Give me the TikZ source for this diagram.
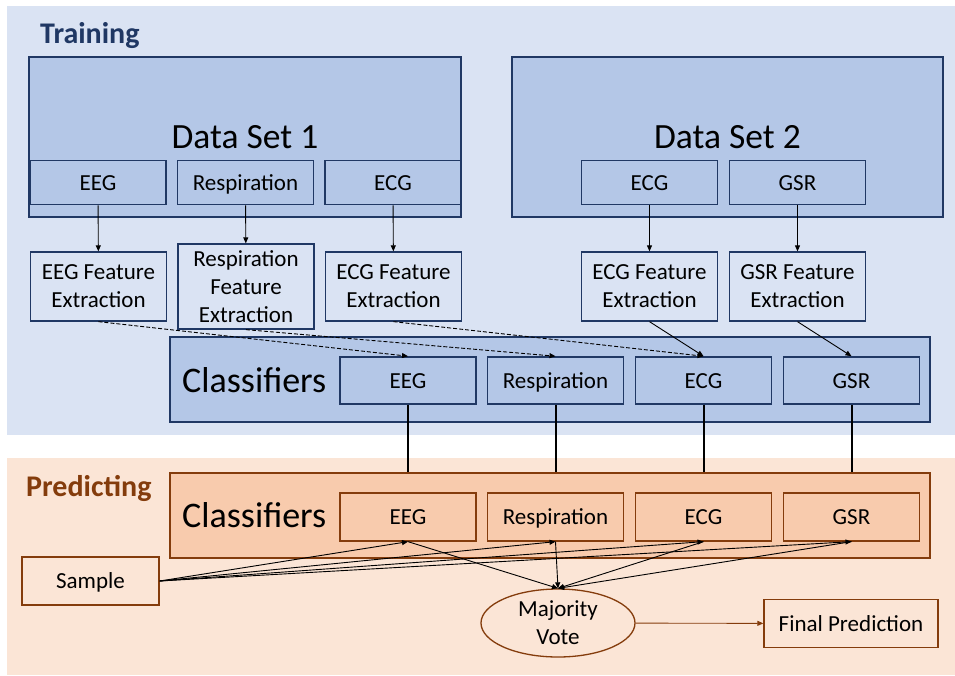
\documentclass[tikz,border=0pt]{standalone}
\usepackage{fontspec}
\setmainfont{Carlito}
\usepackage{xcolor}
\definecolor{TrainBack}{HTML}{DAE3F3}
\definecolor{TrainFill}{HTML}{B4C7E7}
\definecolor{TrainNavy}{HTML}{203864}
\definecolor{PredBack}{HTML}{FBE5D6}
\definecolor{PredFill}{HTML}{F8CBAD}
\definecolor{PredBrown}{HTML}{843C0C}
\usepackage{tikz}
\usetikzlibrary{arrows.meta,shapes.geometric}
\tikzset{
  dsbox/.style={draw=TrainNavy,fill=TrainFill,line width=1.6pt,inner sep=0pt,font=\fontsize{35.5}{40}\selectfont,minimum height=160pt},
  tsub/.style={draw=TrainNavy,fill=TrainFill,line width=1.6pt,inner sep=0pt,font=\fontsize{23}{28}\selectfont,text height=16pt,text depth=1pt,minimum width=136pt,minimum height=44pt},
  featbox/.style={draw=TrainNavy,fill=TrainBack,line width=1.3pt,inner sep=0pt,align=center,font=\fontsize{23}{28}\selectfont,minimum width=136pt,minimum height=69pt},
  clsbox/.style={line width=1.6pt,inner sep=0pt,minimum width=760pt,minimum height=85pt},
  psub/.style={draw=PredBrown,fill=PredFill,line width=1.3pt,inner sep=0pt,font=\fontsize{23}{28}\selectfont,text height=16pt,text depth=1pt,minimum width=136pt,minimum height=48pt},
  pbox/.style={draw=PredBrown,fill=PredBack,line width=1.3pt,inner sep=0pt,align=center,font=\fontsize{23}{28}\selectfont,text height=16pt,text depth=1pt,minimum height=48pt},
  bigtext/.style={anchor=base west,inner sep=0pt,font=\fontsize{36}{40}\selectfont},
  phase/.style={anchor=base west,inner sep=0pt,font=\fontsize{30}{34}\selectfont\bfseries},
  tflow/.style={-{Triangle[length=6pt,width=5pt]},line width=0.9pt},
  tdash/.style={-{Triangle[length=6pt,width=5pt]},line width=0.9pt,dash pattern=on 4pt off 2pt},
  plink/.style={line width=2pt}
}
\begin{document}
\begin{tikzpicture}[x=1pt,y=-1pt]
  \useasboundingbox (0,0) rectangle (955,675);
  % the two phases
  \fill[TrainBack] (7,6) rectangle (955,435);
  \fill[PredBack] (7,458) rectangle (955,675);
  \node[phase,text=TrainNavy] (training) at (40,43) {Training};
  \node[phase,text=PredBrown] (predicting) at (26,496) {Predicting};

  % data sets
  \node[dsbox,minimum width=432pt] (ds1) at (245,137) {Data Set 1};
  \node[tsub] (d1eeg) at (98,182.5) {EEG};
  \node[tsub] (d1resp) at (245.5,182.5) {Respiration};
  \node[tsub] (d1ecg) at (393,182.5) {ECG};
  \node[dsbox,minimum width=431pt] (ds2) at (727.5,137) {Data Set 2};
  \node[tsub] (d2ecg) at (649.5,182.5) {ECG};
  \node[tsub] (d2gsr) at (797.5,182.5) {GSR};

  % feature extraction
  \node[featbox] (feeg) at (98.5,286.5) {EEG Feature\\Extraction};
  \node[featbox,minimum height=85pt] (fresp) at (246,286.5) {Respiration\\Feature\\Extraction};
  \node[featbox] (fecg) at (393.5,286.5) {ECG Feature\\Extraction};
  \node[featbox] (fecgtwo) at (649.5,286.5) {ECG Feature\\Extraction};
  \node[featbox] (fgsr) at (797.5,286.5) {GSR Feature\\Extraction};

  % trained classifiers
  \node[clsbox,draw=TrainNavy,fill=TrainFill] (tcls) at (550,379.5) {};
  \node[bigtext] (tclslabel) at (182,392) {Classifiers};
  \node[tsub,minimum height=47pt] (teeg) at (408,380.5) {EEG};
  \node[tsub,minimum height=47pt] (tresp) at (555.5,380.5) {Respiration};
  \node[tsub,minimum height=47pt] (tecg) at (703.5,380.5) {ECG};
  \node[tsub,minimum height=47pt] (tgsr) at (851.5,380.5) {GSR};

  % predicting classifiers
  \node[clsbox,draw=PredBrown,fill=PredFill] (pcls) at (550,515.5) {};
  \node[bigtext] (pclslabel) at (182,527) {Classifiers};
  \node[psub] (peeg) at (408,517) {EEG};
  \node[psub] (presp) at (555.5,517) {Respiration};
  \node[psub] (pecg) at (703.5,517) {ECG};
  \node[psub] (pgsr) at (851.5,517) {GSR};

  \node[pbox,minimum width=137pt] (sample) at (90.5,581) {Sample};
  \node[draw=PredBrown,fill=PredBack,line width=1.3pt,ellipse,inner sep=0pt,align=center,
    font=\fontsize{23}{28}\selectfont,minimum width=154pt,minimum height=68pt] (vote) at (558,623) {Majority\\Vote};
  \node[pbox,minimum width=174pt] (final) at (851,623.5) {Final Prediction};

  % training flow
  \draw[tflow] (d1eeg) -- (feeg);
  \draw[tflow] (d1resp) -- (fresp);
  \draw[tflow] (d1ecg) -- (fecg);
  \draw[tflow] (d2ecg) -- (fecgtwo);
  \draw[tflow] (d2gsr) -- (fgsr);
  \draw[tdash] (feeg.south) -- (teeg.north);
  \draw[tdash] (fresp.south) -- (tresp.north);
  \draw[tdash] (fecg.south) -- (tecg.north);
  \draw[tflow] (fecgtwo.south) -- (tecg.north);
  \draw[tflow] (fgsr.south) -- (tgsr.north);

  % trained models carried over
  \foreach \c in {eeg,resp,ecg,gsr}
    \draw[plink] (t\c.south) -- (t\c.south |- pcls.north);

  % predicting flow
  \foreach \c in {eeg,resp,ecg,gsr}{
    \draw[tflow] (sample.east) -- (p\c.south);
    \draw[tflow] (p\c.south) -- (vote.north);
  }
  \draw[tflow,PredBrown] (vote) -- (final);
\end{tikzpicture}
\end{document}
